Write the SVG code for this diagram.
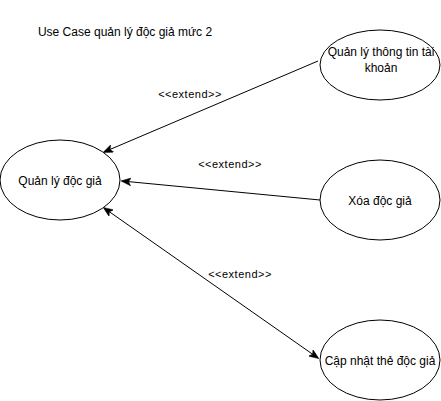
<svg xmlns="http://www.w3.org/2000/svg" width="441" height="401" viewBox="0 0 441 401">
<style>
.n{fill:#fff;stroke:#000;stroke-width:1}
.t{font-family:"Liberation Sans",Arial,sans-serif;font-size:12px;fill:#000;text-anchor:middle}
.l{font-family:"Liberation Sans",Arial,sans-serif;font-size:11px;letter-spacing:0.5px;fill:#000;text-anchor:middle}
.c{stroke:#000;stroke-width:1;fill:none}
</style>
<defs>
<marker id="a" viewBox="0 0 10 8" refX="9" refY="4" markerWidth="10" markerHeight="8" markerUnits="userSpaceOnUse" orient="auto-start-reverse">
<path d="M0,0 L10,4 L0,8 L2.5,4 Z" fill="#000" stroke="#000" stroke-width="0.5"/>
</marker>
</defs>
<rect width="441" height="401" fill="#fff"/>
<text class="t" x="125" y="36">Use Case quản lý độc giả mức 2</text>
<g id="conn">
<line class="c" x1="318" y1="61" x2="104" y2="152" marker-end="url(#a)"/>
<line class="c" x1="320" y1="200" x2="122" y2="181" marker-end="url(#a)"/>
<line class="c" x1="104" y1="208" x2="318" y2="358" marker-start="url(#a)" marker-end="url(#a)"/>
<text class="l" x="190" y="98">&lt;&lt;extend&gt;&gt;</text>
<text class="l" x="230" y="168">&lt;&lt;extend&gt;&gt;</text>
<text class="l" x="240" y="278">&lt;&lt;extend&gt;&gt;</text>
</g>
<g id="n1">
<ellipse class="n" cx="60" cy="180" rx="60" ry="40"/>
<text class="t" x="60" y="185">Quản lý độc giả</text>
</g>
<g id="n2">
<ellipse class="n" cx="380" cy="65" rx="60" ry="35"/>
<text class="t" x="381" y="56">Quản lý thông tin tài</text>
<text class="t" x="381" y="72">khoản</text>
</g>
<g id="n3">
<ellipse class="n" cx="380" cy="200" rx="60" ry="40"/>
<text class="t" x="380" y="205">Xóa độc giả</text>
</g>
<g id="n4">
<ellipse class="n" cx="380" cy="360" rx="60" ry="40"/>
<text class="t" x="380" y="365">Cập nhật thẻ độc giả</text>
</g>
</svg>
